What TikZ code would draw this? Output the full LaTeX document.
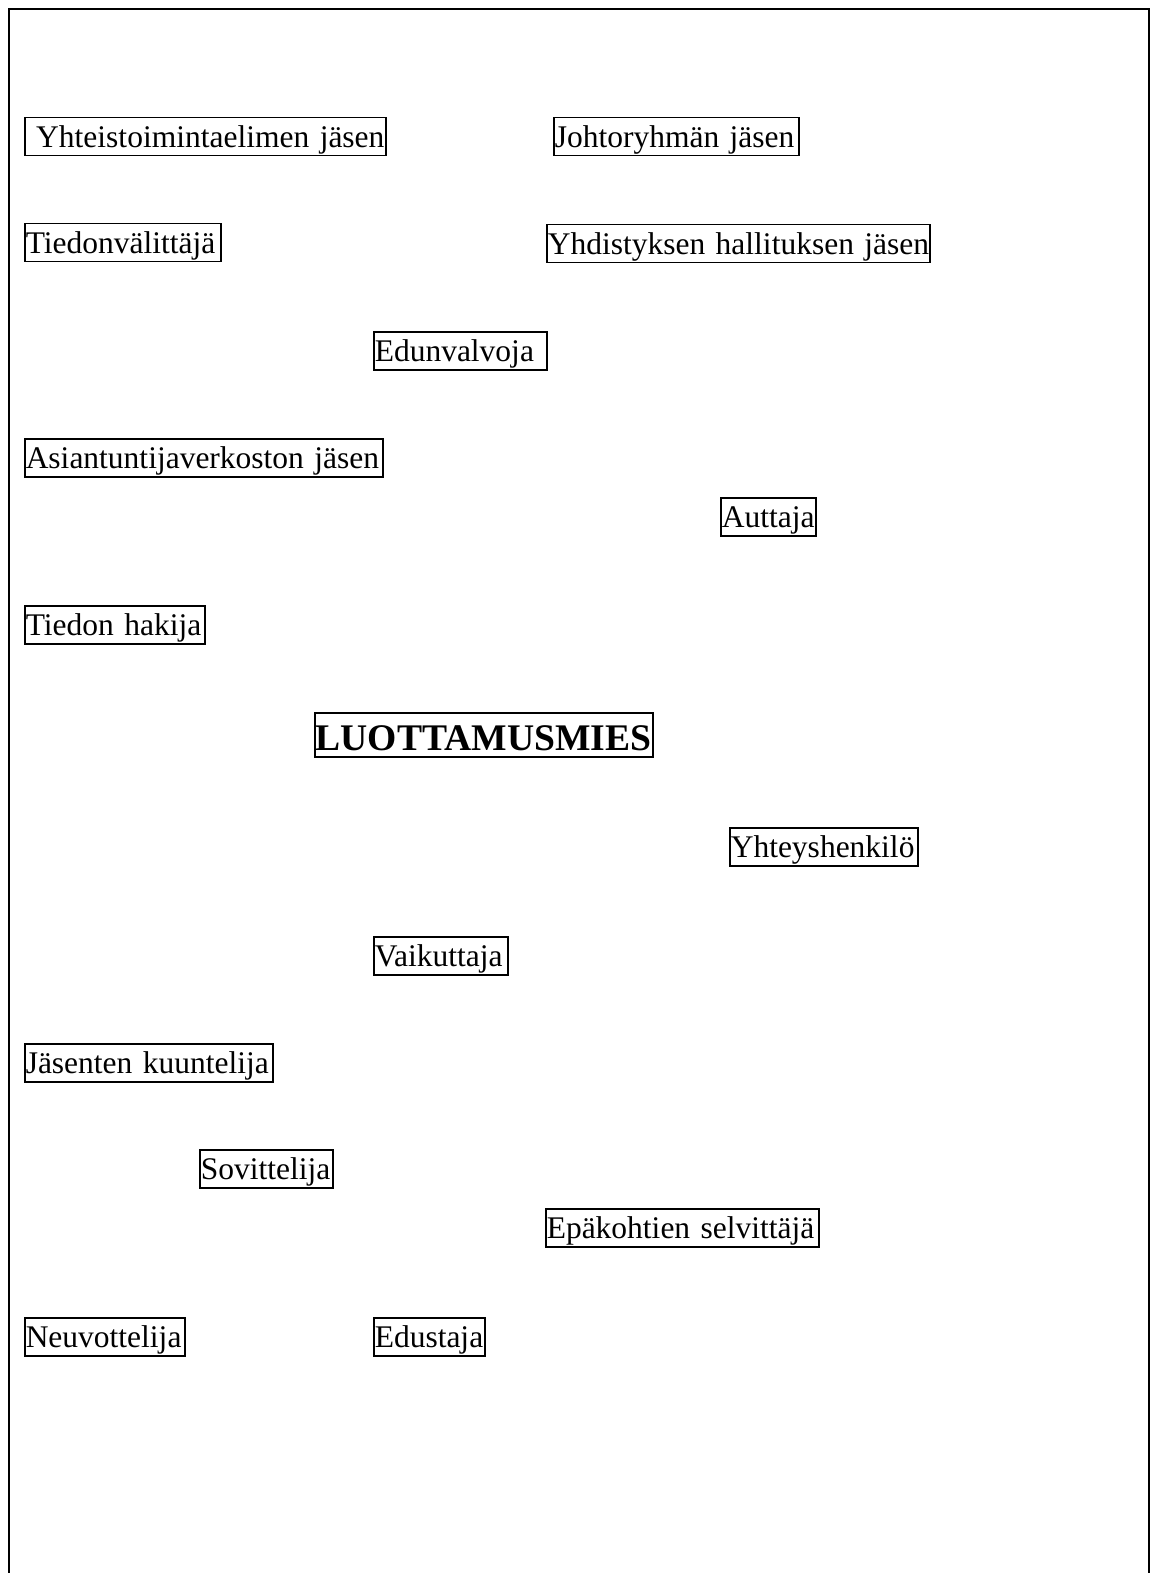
\documentclass[tikz,border=0pt]{standalone}
\usepackage{fontspec}
\setmainfont{Liberation Serif}
\begin{document}
\begin{tikzpicture}[x=0.5pt,y=-0.5pt,
  lbl/.style={draw, line width=0.75pt, inner xsep=0.5pt, inner ysep=0pt, anchor=north west,
    align=left, text height=14.75pt, text depth=4.25pt, font=\fontsize{15.75pt}{19pt}\selectfont},
  mainlbl/.style={lbl, text height=19pt, text depth=3pt, font=\fontsize{18.8pt}{22pt}\selectfont\bfseries}]
\useasboundingbox (0,0) rectangle (1152,1573);
\draw[line width=1pt] (9,1573) -- (9,9) -- (1149,9) -- (1149,1573);

\node[lbl, text width=179.5pt] (n1) at (24,117) {\mbox{\ Yhteistoimintaelimen jäsen}};
\node[lbl, text width=121.5pt] (n2) at (553,117) {\mbox{Johtoryhmän jäsen}};
\node[lbl, text width=97pt] (n3) at (24,223) {\mbox{Tiedonvälittäjä}};
\node[lbl, text width=190.5pt] (n4) at (546,224) {\mbox{Yhdistyksen hallituksen jäsen}};
\node[lbl, text width=85.5pt] (n5) at (373,331) {\mbox{Edunvalvoja}};
\node[lbl, text width=178pt] (n6) at (24,438) {\mbox{Asiantuntijaverkoston jäsen}};
\node[lbl, text width=46.5pt] (n7) at (720,497) {\mbox{Auttaja}};
\node[lbl, text width=89pt] (n8) at (24,605) {\mbox{Tiedon hakija}};
\node[mainlbl, text width=168pt] (n9) at (314,712) {\mbox{LUOTTAMUSMIES}};
\node[lbl, text width=93pt] (n10) at (729,827) {\mbox{Yhteyshenkilö}};
\node[lbl, text width=66pt] (n11) at (373,936) {\mbox{Vaikuttaja}};
\node[lbl, text width=123pt] (n12) at (24,1043) {\mbox{Jäsenten kuuntelija}};
\node[lbl, text width=65.5pt] (n13) at (199,1149) {\mbox{Sovittelija}};
\node[lbl, text width=135.5pt] (n14) at (545,1208) {\mbox{Epäkohtien selvittäjä}};
\node[lbl, text width=79pt] (n15) at (24,1317) {\mbox{Neuvottelija}};
\node[lbl, text width=54.5pt] (n16) at (373,1317) {\mbox{Edustaja}};
\end{tikzpicture}
\end{document}
